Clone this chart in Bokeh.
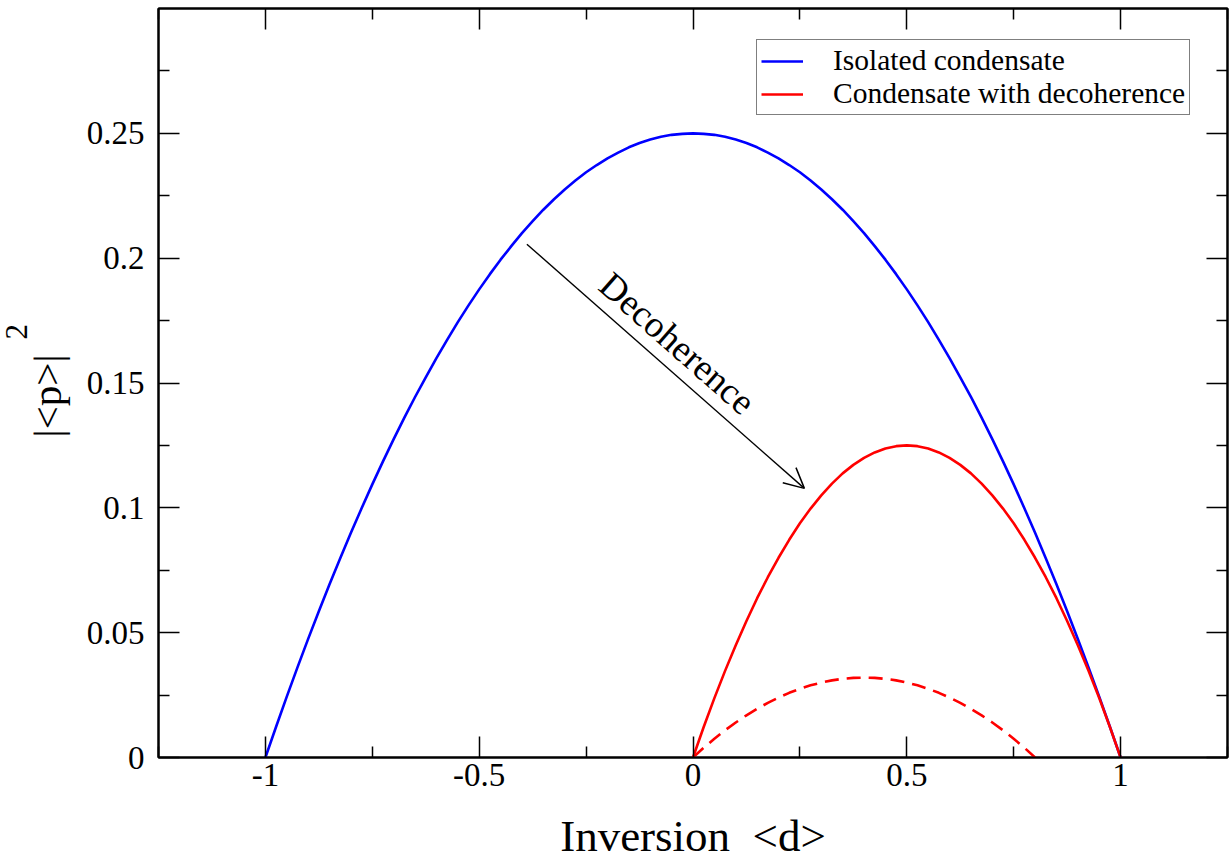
from bokeh.plotting import figure
from bokeh.layouts import row
from bokeh.models import (Range1d, LinearAxis, FixedTicker, Label, Arrow, OpenHead,
                          Legend, LegendItem)
from bokeh.embed import file_html
from bokeh.resources import INLINE

# ---------------- data ----------------
x_blue = [-1.0, -0.975, -0.95, -0.925, -0.9, -0.875, -0.85, -0.825, -0.8, -0.775,
          -0.75, -0.725, -0.7, -0.675, -0.65, -0.625, -0.6, -0.575, -0.55, -0.525,
          -0.5, -0.475, -0.45, -0.425, -0.4, -0.375, -0.35, -0.325, -0.3, -0.275,
          -0.25, -0.225, -0.2, -0.175, -0.15, -0.125, -0.1, -0.075, -0.05, -0.025,
          0.0, 0.025, 0.05, 0.075, 0.1, 0.125, 0.15, 0.175, 0.2, 0.225,
          0.25, 0.275, 0.3, 0.325, 0.35, 0.375, 0.4, 0.425, 0.45, 0.475,
          0.5, 0.525, 0.55, 0.575, 0.6, 0.625, 0.65, 0.675, 0.7, 0.725,
          0.75, 0.775, 0.8, 0.825, 0.85, 0.875, 0.9, 0.925, 0.95, 0.975, 1.0]
y_blue = [0.0, 0.0123, 0.0244, 0.0361, 0.0475, 0.0586, 0.0694, 0.0798, 0.09, 0.0998,
          0.1094, 0.1186, 0.1275, 0.1361, 0.1444, 0.1523, 0.16, 0.1673, 0.1744, 0.1811,
          0.1875, 0.1936, 0.1994, 0.2048, 0.21, 0.2148, 0.2194, 0.2236, 0.2275, 0.2311,
          0.2344, 0.2373, 0.24, 0.2423, 0.2444, 0.2461, 0.2475, 0.2486, 0.2494, 0.2498,
          0.25, 0.2498, 0.2494, 0.2486, 0.2475, 0.2461, 0.2444, 0.2423, 0.24, 0.2373,
          0.2344, 0.2311, 0.2275, 0.2236, 0.2194, 0.2148, 0.21, 0.2048, 0.1994, 0.1936,
          0.1875, 0.1811, 0.1744, 0.1673, 0.16, 0.1523, 0.1444, 0.1361, 0.1275, 0.1186,
          0.1094, 0.0998, 0.09, 0.0798, 0.0694, 0.0586, 0.0475, 0.0361, 0.0244, 0.0123, 0.0]

x_red = [0.0, 0.025, 0.05, 0.075, 0.1, 0.125, 0.15, 0.175, 0.2, 0.225,
         0.25, 0.275, 0.3, 0.325, 0.35, 0.375, 0.4, 0.425, 0.45, 0.475,
         0.5, 0.525, 0.55, 0.575, 0.6, 0.625, 0.65, 0.675, 0.7, 0.725,
         0.75, 0.775, 0.8, 0.825, 0.85, 0.875, 0.9, 0.925, 0.95, 0.975, 1.0]
y_red = [0.0, 0.0122, 0.0238, 0.0347, 0.045, 0.0547, 0.0638, 0.0722, 0.08, 0.0872,
         0.0938, 0.0997, 0.105, 0.1097, 0.1138, 0.1172, 0.12, 0.1222, 0.1238, 0.1247,
         0.125, 0.1247, 0.1238, 0.1222, 0.12, 0.1172, 0.1138, 0.1097, 0.105, 0.0997,
         0.0938, 0.0872, 0.08, 0.0722, 0.0638, 0.0547, 0.045, 0.0347, 0.0238, 0.0122, 0.0]

x_dash = [0.0, 0.025, 0.05, 0.075, 0.1, 0.125, 0.15, 0.175, 0.2, 0.225,
          0.25, 0.275, 0.3, 0.325, 0.35, 0.375, 0.4, 0.425, 0.45, 0.475,
          0.5, 0.525, 0.55, 0.575, 0.6, 0.625, 0.65, 0.675, 0.7, 0.725,
          0.75, 0.775, 0.8]
y_dash = [0.0, 0.0039, 0.0075, 0.0109, 0.014, 0.0169, 0.0195, 0.0219, 0.024, 0.0259,
          0.0275, 0.0289, 0.03, 0.0309, 0.0315, 0.0319, 0.032, 0.0319, 0.0315, 0.0309,
          0.03, 0.0289, 0.0275, 0.0259, 0.024, 0.0219, 0.0195, 0.0169, 0.014, 0.0109,
          0.0075, 0.0039, 0.0]

x_ticks = [-1, -0.5, 0, 0.5, 1]
x_tick_labels = ["-1", "-0.5", "0", "0.5", "1"]
x_minor = [-1.25, -0.75, -0.25, 0.25, 0.75, 1.25]
y_ticks = [0, 0.05, 0.1, 0.15, 0.2, 0.25]
y_tick_labels = ["0", "0.05", "0.1", "0.15", "0.2", "0.25"]
y_minor = [0.025, 0.075, 0.125, 0.175, 0.225, 0.275]

legend_labels = ["Isolated condensate", "Condensate with decoherence"]
x_title = "Inversion \u00a0<d>"
y_title = "|<p>|"
y_title_sup = "2"
arrow_text = "Decoherence"
arrow_start = (-0.3885, 0.2056)
arrow_end = (0.2605, 0.1078)

FONT = "Liberation Serif"
LFONT = "'Liberation Serif', serif"

W_LEFT = 80
H = 863

# ---------------- main figure ----------------
p = figure(width=1229 - W_LEFT, height=H, output_backend="svg", toolbar_location=None,
           x_range=Range1d(-1.25, 1.25), y_range=Range1d(0, 0.3),
           x_axis_location=None, y_axis_location=None,
           min_border_left=158 - W_LEFT, min_border_right=2, min_border_top=8,
           min_border_bottom=106)
p.grid.visible = False
p.background_fill_color = "white"
p.border_fill_color = "white"
p.outline_line_color = "black"
p.outline_line_width = 2


def make_axis(ticks, minor, labels, show_labels):
    ax = LinearAxis(ticker=FixedTicker(ticks=ticks, minor_ticks=minor))
    ax.axis_line_color = "black"
    ax.axis_line_width = 2
    ax.major_tick_in = 21
    ax.major_tick_out = 0
    ax.minor_tick_in = 11
    ax.minor_tick_out = 0
    ax.major_tick_line_width = 1.5
    ax.minor_tick_line_width = 1.5
    ax.major_tick_line_color = "black"
    ax.minor_tick_line_color = "black"
    if show_labels:
        ax.major_label_overrides = {t: l for t, l in zip(ticks, labels)}
        ax.major_label_text_font = FONT
        ax.major_label_text_font_size = "33px"
        ax.major_label_text_color = "black"
    else:
        ax.major_label_overrides = {t: "" for t in ticks}
        ax.major_label_text_font_size = "0px"
        ax.major_label_standoff = 0
    return ax


xb = make_axis(x_ticks, x_minor, x_tick_labels, True)
xb.major_label_standoff = 6
xb.axis_label = x_title
xb.axis_label_text_font = FONT
xb.axis_label_text_font_size = "45px"
xb.axis_label_text_font_style = "normal"
xb.axis_label_text_color = "black"
xb.axis_label_standoff = 22
p.add_layout(xb, "below")

yl = make_axis(y_ticks, y_minor, y_tick_labels, True)
yl.major_label_standoff = 14
p.add_layout(yl, "left")

p.add_layout(make_axis(x_ticks, x_minor, x_tick_labels, False), "above")
p.add_layout(make_axis(y_ticks, y_minor, y_tick_labels, False), "right")

# ---------------- curves ----------------
r_blue = p.line(x_blue, y_blue, line_color="#0000ff", line_width=2.6, line_join="round")
r_red = p.line(x_red, y_red, line_color="#ff0000", line_width=2.6, line_join="round")
p.line(x_dash, y_dash, line_color="#ff0000", line_width=2.6, line_dash="14 8")

# ---------------- annotations ----------------
p.add_layout(Arrow(end=OpenHead(size=20, line_width=1.5, line_color="black"),
                   x_start=arrow_start[0], y_start=arrow_start[1],
                   x_end=arrow_end[0], y_end=arrow_end[1],
                   line_width=1.4, line_color="black"))
p.add_layout(Label(x=-0.0367, y=0.1659, text=arrow_text, angle=-41.4, angle_units="deg",
                   text_align="center", text_baseline="middle",
                   text_font=FONT, text_font_size="37px", text_color="black"))

legend = Legend(items=[LegendItem(label=legend_labels[0], renderers=[r_blue]),
                       LegendItem(label=legend_labels[1], renderers=[r_red])],
                location=(598, 642))
legend.label_text_font = LFONT
legend.label_text_font_size = "29.5px"
legend.label_text_color = "black"
legend.glyph_width = 42
legend.glyph_height = 20
legend.label_standoff = 30
legend.padding = 4
legend.spacing = 0
legend.margin = 0
legend.border_line_color = "black"
legend.border_line_width = 1.5
legend.background_fill_color = "white"
legend.background_fill_alpha = 1
p.add_layout(legend)

# ---------------- left strip holding the y title (shares the y scale) ----------------
pl = figure(width=W_LEFT, height=H, output_backend="svg", toolbar_location=None,
            x_range=Range1d(0, W_LEFT), y_range=p.y_range,
            x_axis_location=None, y_axis_location=None,
            min_border=0)
pl.grid.visible = False
pl.outline_line_color = None
pl.background_fill_color = "white"
pl.border_fill_color = "white"
pl.add_layout(Label(x=46, y=0.1448, text=y_title, angle=90, angle_units="deg",
                    text_align="center", text_baseline="middle",
                    text_font=FONT, text_font_size="41px", text_color="black"))
pl.add_layout(Label(x=16, y=0.1705, text=y_title_sup, angle=90, angle_units="deg",
                    text_align="center", text_baseline="middle",
                    text_font=FONT, text_font_size="31px", text_color="black"))

layout = row(pl, p, spacing=0)
open("out.html", "w").write(file_html(layout, INLINE))
